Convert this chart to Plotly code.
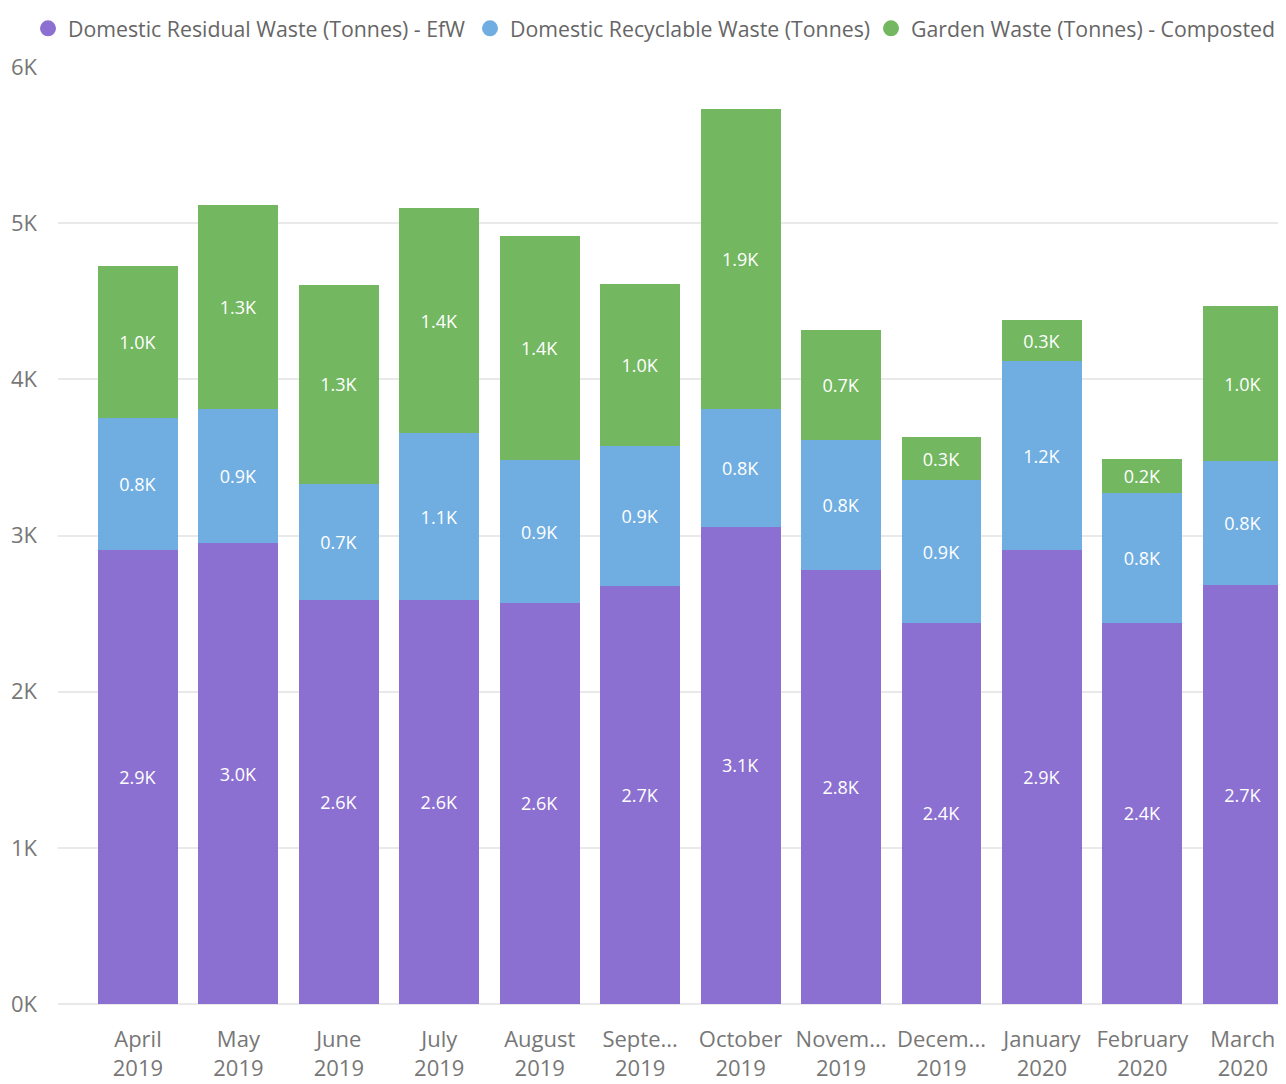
import plotly.graph_objects as go

months = ["April<br>2019", "May<br>2019", "June<br>2019", "July<br>2019", "August<br>2019",
          "Septe...<br>2019", "October<br>2019", "Novem...<br>2019", "Decem...<br>2019",
          "January<br>2020", "February<br>2020", "March<br>2020"]

residual = [2905, 2952, 2587, 2587, 2568, 2677, 3055, 2779, 2440, 2907, 2440, 2683]
recyclable = [845, 858, 743, 1069, 915, 896, 755, 832, 915, 1210, 832, 794]
garden = [974, 1306, 1274, 1440, 1435, 1040, 1921, 705, 276, 262, 218, 992]

series_names = ["Domestic Residual Waste (Tonnes) - EfW",
                "Domestic Recyclable Waste (Tonnes)",
                "Garden Waste (Tonnes) - Composted"]
colors = ["#8C70D1", "#70AEE1", "#73B761"]

y_tickvals = [0, 1000, 2000, 3000, 4000, 5000, 6000]
y_ticktext = ["0K", "1K", "2K", "3K", "4K", "5K", "6K"]

FONT = "Open Sans"
W, H = 1278, 1076  # page body has an 8px margin
fig = go.Figure()

for name, vals, col in zip(series_names, [residual, recyclable, garden], colors):
    fig.add_trace(go.Bar(
        x=months, y=vals, name=name, marker=dict(color=col, line=dict(width=0)),
        text=[f"{v/1000:.1f}K" for v in vals], textposition="inside",
        insidetextanchor="middle", textangle=0,
        textfont=dict(color="white", size=18, family=FONT),
        showlegend=False, hoverinfo="skip"))

legend_ids = ["legend", "legend2", "legend3"]
legend_left = [20, 462, 863]
for name, col, lid in zip(series_names, colors, legend_ids):
    fig.add_trace(go.Scatter(
        x=[None], y=[None], mode="markers", name=name, legend=lid,
        marker=dict(color=col, size=20, symbol="circle"), showlegend=True))

legend_style = dict(orientation="h", xref="container", yref="container",
                    y=1.0, xanchor="left", yanchor="top",
                    font=dict(size=21.3, color="#666666", family=FONT),
                    itemwidth=30, bgcolor="rgba(0,0,0,0)")

fig.update_layout(
    barmode="stack", bargap=0.204,
    width=W, height=H,
    margin=dict(l=50, r=0, t=59, b=80, autoexpand=False),
    paper_bgcolor="white", plot_bgcolor="white",
    font=dict(family=FONT, color="#666666", size=22),
    legend=dict(x=legend_left[0] / W, **legend_style),
    legend2=dict(x=legend_left[1] / W, **legend_style),
    legend3=dict(x=legend_left[2] / W, **legend_style),
    xaxis=dict(type="category", range=[-0.796, 11.43], showgrid=False,
               tickfont=dict(size=22, color="#777777"), ticks="",
               showline=False, ticklabelstandoff=20),
    yaxis=dict(range=[0, 6000], tickvals=y_tickvals, ticktext=y_ticktext,
               showgrid=True, gridcolor="#E9E9E9", gridwidth=2,
               zeroline=True, zerolinecolor="#E9E9E9", zerolinewidth=2,
               tickfont=dict(size=22, color="#777777"), ticklabelstandoff=20),
)

fig.write_html("out.html")
